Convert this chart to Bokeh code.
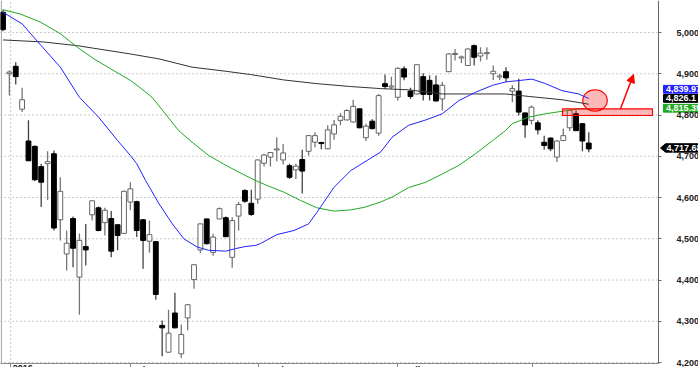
from bokeh.plotting import figure
from bokeh.models import (Range1d, FixedTicker, NumeralTickFormatter,
                          Arrow, NormalHead, ColumnDataSource)
from bokeh.core.properties import value
from bokeh.embed import file_html
from bokeh.resources import INLINE

# ---------------- data ----------------
opens = [5049, 4900, 4918, 4814, 4737, 4724, 4675, 4682, 4706, 4546,
         4463, 4549, 4407, 4481, 4558, 4575, 4539, 4549, 4534, 4513,
         4589, 4590, 4546, 4494, 4493, 4290, 4225, 4320, 4221, 4308,
         4401, 4473, 4548, 4467, 4548, 4551, 4455, 4555, 4617, 4586,
         4596, 4683, 4698, 4716, 4691, 4677, 4667, 4692, 4712, 4734,
         4733, 4718, 4754, 4787, 4788, 4783, 4815, 4745, 4785, 4756,
         4876, 4868, 4843, 4912, 4858, 4851, 4893, 4884, 4873, 4839,
         4905, 4947, 4939, 4920, 4968, 4943, 4949, 4900, 4893, 4905,
         4858, 4858, 4805, 4787, 4781, 4734, 4744, 4698, 4738, 4769,
         4803, 4779, 4732]
highs = [5055, 4908, 4928, 4866, 4787, 4726, 4682, 4712, 4714, 4649,
         4520, 4554, 4513, 4536, 4593, 4578, 4575, 4567, 4534, 4617,
         4637, 4592, 4548, 4544, 4494, 4302, 4328, 4369, 4292, 4342,
         4438, 4537, 4549, 4512, 4576, 4554, 4552, 4589, 4620, 4619,
         4692, 4706, 4710, 4746, 4730, 4682, 4682, 4716, 4751, 4758,
         4735, 4775, 4788, 4804, 4814, 4837, 4816, 4779, 4790, 4851,
         4898, 4893, 4916, 4918, 4866, 4922, 4901, 4896, 4896, 4880,
         4950, 4960, 4944, 4962, 4971, 4964, 4964, 4920, 4900, 4916,
         4872, 4888, 4806, 4823, 4787, 4750, 4746, 4738, 4767, 4812,
         4811, 4780, 4758]
lows = [5003, 4847, 4874, 4807, 4689, 4640, 4577, 4594, 4520, 4496,
        4423, 4431, 4316, 4435, 4544, 4518, 4508, 4455, 4472, 4512,
        4569, 4504, 4427, 4466, 4352, 4215, 4224, 4283, 4211, 4278,
        4379, 4465, 4486, 4459, 4547, 4504, 4430, 4520, 4587, 4556,
        4585, 4675, 4675, 4688, 4680, 4645, 4645, 4610, 4702, 4722,
        4717, 4717, 4740, 4775, 4787, 4782, 4768, 4737, 4765, 4750,
        4863, 4863, 4835, 4884, 4839, 4850, 4835, 4835, 4833, 4811,
        4904, 4932, 4926, 4919, 4920, 4930, 4934, 4885, 4884, 4880,
        4831, 4799, 4745, 4777, 4753, 4716, 4712, 4686, 4737, 4761,
        4761, 4712, 4710]
closes = [5007, 4904, 4893, 4837, 4689, 4643, 4637, 4687, 4526, 4615,
          4489, 4477, 4496, 4473, 4592, 4520, 4569, 4470, 4508, 4615,
          4621, 4520, 4496, 4510, 4365, 4284, 4271, 4284, 4268, 4340,
          4437, 4536, 4488, 4504, 4573, 4505, 4544, 4583, 4591, 4559,
          4691, 4703, 4709, 4717, 4708, 4649, 4676, 4664, 4750, 4750,
          4731, 4764, 4776, 4797, 4811, 4821, 4769, 4773, 4767, 4847,
          4869, 4870, 4913, 4892, 4845, 4922, 4850, 4850, 4834, 4872,
          4948, 4949, 4940, 4960, 4940, 4950, 4951, 4906, 4894, 4890,
          4864, 4807, 4776, 4819, 4764, 4726, 4718, 4737, 4750, 4811,
          4762, 4737, 4717.68]

# moving averages (position in candle index, value)
blue_x = [0, 3, 6, 9, 12, 15, 18, 20, 21, 22.4, 24.5, 26.6, 28.4, 30.5, 32.3,
          35, 36.5, 38, 39.7, 40.4, 43, 45.7, 48, 49.3, 52, 54.6, 57.2, 59.3,
          61.1, 63.7, 66.4, 69, 71.6, 74.2, 76.9, 78.9, 83.1, 85.2, 87.8, 90.4, 92]
blue_y = [5049, 5021, 4968, 4916, 4843, 4795, 4738, 4702, 4682, 4641, 4585, 4536,
          4500, 4480, 4472, 4470, 4476, 4481, 4484, 4488, 4510, 4520, 4536, 4564,
          4625, 4665, 4690, 4710, 4746, 4775, 4788, 4803, 4835, 4855, 4872, 4880,
          4887, 4876, 4859, 4851, 4839.97]
green_x = [0, 2.7, 5.9, 9, 11.7, 14.3, 16.9, 20, 21.3, 23.4, 25.5, 27.6, 29.7,
           32.3, 35, 37.6, 39.7, 41.5, 44.1, 46.7, 49.3, 52, 54.6, 56.7, 59.3,
           61.1, 63.7, 66.4, 69, 71.6, 74.2, 76.9, 78.9, 80, 82.6, 85.2, 87.8,
           90.4, 92]
green_y = [5055, 5045, 5025, 4997, 4964, 4936, 4912, 4884, 4869, 4843, 4803, 4762,
           4734, 4702, 4678, 4657, 4641, 4629, 4613, 4593, 4575, 4567, 4570, 4576,
           4589, 4601, 4624, 4637, 4657, 4678, 4706, 4738, 4762, 4779, 4795, 4803,
           4809, 4815, 4815.35]
black_x = [0, 6.4, 11.7, 20, 24.5, 29.7, 35, 38.9, 44.1, 49.3, 54.6, 59.3, 63.7,
           69, 74.2, 78.9, 82.6, 87.8, 92]
black_y = [4982, 4977, 4968, 4948, 4936, 4916, 4906, 4898, 4885, 4876, 4869, 4864,
           4861, 4851, 4851, 4851, 4845, 4837, 4826.1]

month_labels = ["2016", "February", "March", "April", "May"]
month_pos = [1.2, 20.0, 40.1, 62.0, 83.2]
price_ticks = [4200, 4300, 4400, 4500, 4600, 4700, 4800, 4900, 5000]
ma_values = [4839.97, 4826.1, 4815.35]
ma_texts = ["4,839.97", "4,826.1", "4,815.35"]
ma_colors = ["#2020ff", "#000000", "#1faa1f"]
last_text = "4,717.68"

# ---------------- layout helpers ----------------
W, H = 698, 367
PX = 6.367                      # pixels per candle
PPU = 0.4125                    # pixels per price unit
X0 = -2.5 / PX
X1 = X0 + W / PX
Y1 = 5000 + 32 / PPU
Y0 = Y1 - H / PPU

def xpx(px):
    return X0 + px / PX

def ypx(py):
    return Y1 - py / PPU

AXIS_X = xpx(658)               # right price axis
AXIS_Y = ypx(363)               # bottom time axis
FONT = "Liberation Sans"

p = figure(width=W, height=H, output_backend="svg", toolbar_location=None,
           x_range=Range1d(X0, X1), y_range=Range1d(Y0, Y1),
           y_axis_location="right", x_axis_location="below",
           min_border_left=0, min_border_right=0, min_border_top=0, min_border_bottom=0,
           outline_line_color=None, background_fill_color="white",
           border_fill_color="white")
p.xgrid.visible = False
p.ygrid.visible = False

# right axis
ya = p.yaxis[0]
ya.fixed_location = AXIS_X
ya.bounds = (AXIS_Y, Y1)
ya.ticker = FixedTicker(ticks=price_ticks)
ya.formatter = NumeralTickFormatter(format="0,0")
ya.major_label_text_font = FONT
ya.major_label_text_font_size = "9px"
ya.major_label_text_font_style = "bold"
ya.major_label_text_color = "#222222"
ya.axis_line_color = "#666666"
ya.major_tick_line_color = "#666666"
ya.major_tick_out = 3
ya.major_tick_in = 0
ya.minor_tick_line_color = None
ya.major_label_standoff = 15

# bottom axis
xa = p.xaxis[0]
xa.fixed_location = AXIS_Y
xa.bounds = (X0, AXIS_X)
xa.ticker = FixedTicker(ticks=month_pos)
xa.major_label_overrides = {m: "" for m in month_pos}
xa.major_label_text_font_size = "0px"
xa.major_label_standoff = 0
xa.axis_line_color = "#888888"
xa.major_tick_line_color = "#888888"
xa.major_tick_out = 4
xa.major_tick_in = 0
xa.minor_tick_line_color = None

# dotted grid
p.segment(x0=[X0] * len(price_ticks), y0=price_ticks, x1=[AXIS_X] * len(price_ticks),
          y1=price_ticks, line_color="#999999", line_dash="1 3", line_width=1)
p.segment(x0=[month_pos[0]], y0=[AXIS_Y], x1=[month_pos[0]], y1=[Y1],
          line_color="#999999", line_dash="1 3", line_width=1)
# left border
p.segment(x0=[xpx(0.8)], y0=[AXIS_Y], x1=[xpx(0.8)], y1=[Y1], line_color="#999999", line_width=1)

# ---------------- callout circle (under the lines) ----------------
p.ellipse(x=[xpx(594.5)], y=[ypx(100)], width=24.5 / PX, height=21.5 / PPU,
          fill_color="red", fill_alpha=0.28, line_color="red", line_width=1.2)

# ---------------- candles ----------------
up = dict(x=[], top=[], bottom=[], high=[], low=[])
dn = dict(x=[], top=[], bottom=[], high=[], low=[])
for i, (o, h, l, c) in enumerate(zip(opens, highs, lows, closes)):
    d = up if c >= o else dn
    top, bot = max(o, c), min(o, c)
    if top - bot < 2.5:
        mid = (top + bot) / 2
        top, bot = mid + 1.25, mid - 1.25
    d["x"].append(i); d["top"].append(top); d["bottom"].append(bot)
    d["high"].append(h); d["low"].append(l)

su, sd = ColumnDataSource(up), ColumnDataSource(dn)
p.segment(x0="x", y0="high", x1="x", y1="low", source=su, line_color="#777777", line_width=1.3)
p.segment(x0="x", y0="high", x1="x", y1="low", source=sd, line_color="#444444", line_width=1.3)
p.vbar(x="x", top="top", bottom="bottom", width=0.76, source=su,
       fill_color="white", line_color="#666666", line_width=1)
p.vbar(x="x", top="top", bottom="bottom", width=0.76, source=sd,
       fill_color="black", line_color="black", line_width=1)

# ---------------- moving averages ----------------
p.line(black_x, black_y, line_color="#333333", line_width=1)
p.line(green_x, green_y, line_color="#22aa22", line_width=1)
p.line(blue_x, blue_y, line_color="#2222ff", line_width=1)

# ---------------- callout rectangle and arrow ----------------
p.quad(left=[xpx(562)], right=[xpx(652)], top=[ypx(108.3)], bottom=[ypx(115)],
       fill_color="red", fill_alpha=0.28, line_color="red", line_width=1.2)
p.add_layout(Arrow(end=NormalHead(size=8, fill_color="red", line_color="red"),
                   x_start=xpx(620), y_start=ypx(108.3), x_end=xpx(633), y_end=ypx(74),
                   line_color="red", line_width=1.5))

# ---------------- price tags on the right axis ----------------
def val_px(v):
    return (Y1 - v) * PPU

tag_shift_px = [-9.2, -5.8, -0.4]     # tags pushed apart so they don't overlap
half = 3.9
for v, t, col, sh in zip(ma_values, ma_texts, ma_colors, tag_shift_px):
    cy = val_px(v) + sh
    p.quad(left=[xpx(663)], right=[X1], top=[ypx(cy - half)], bottom=[ypx(cy + half)],
           fill_color=col, line_color=col)
    p.text(x=[xpx(665.5)], y=[ypx(cy)], text=[t], text_font=value(FONT),
           text_font_size="9px", text_font_style="bold", text_color="white",
           text_baseline="middle", text_align="left")
cy = val_px(closes[-1]) - 1
p.patch(x=[xpx(660), xpx(665), X1, X1, xpx(665)],
        y=[ypx(cy), ypx(cy - 4.2), ypx(cy - 4.2), ypx(cy + 4.2), ypx(cy + 4.2)],
        fill_color="black", line_color="black")
p.text(x=[xpx(666)], y=[ypx(cy)], text=[last_text], text_font=value(FONT),
       text_font_size="9px", text_font_style="bold", text_color="white",
       text_baseline="middle", text_align="left")

# ---------------- month labels (mostly below the window edge) ----------------
p.text(x=month_pos, y=[ypx(364.5)] * len(month_pos), text=month_labels, x_offset=2,
       text_font=value(FONT), text_font_size="9px", text_font_style="bold",
       text_color="#111111", text_baseline="top", text_align="left")

open("out.html", "w").write(file_html(p, INLINE))
